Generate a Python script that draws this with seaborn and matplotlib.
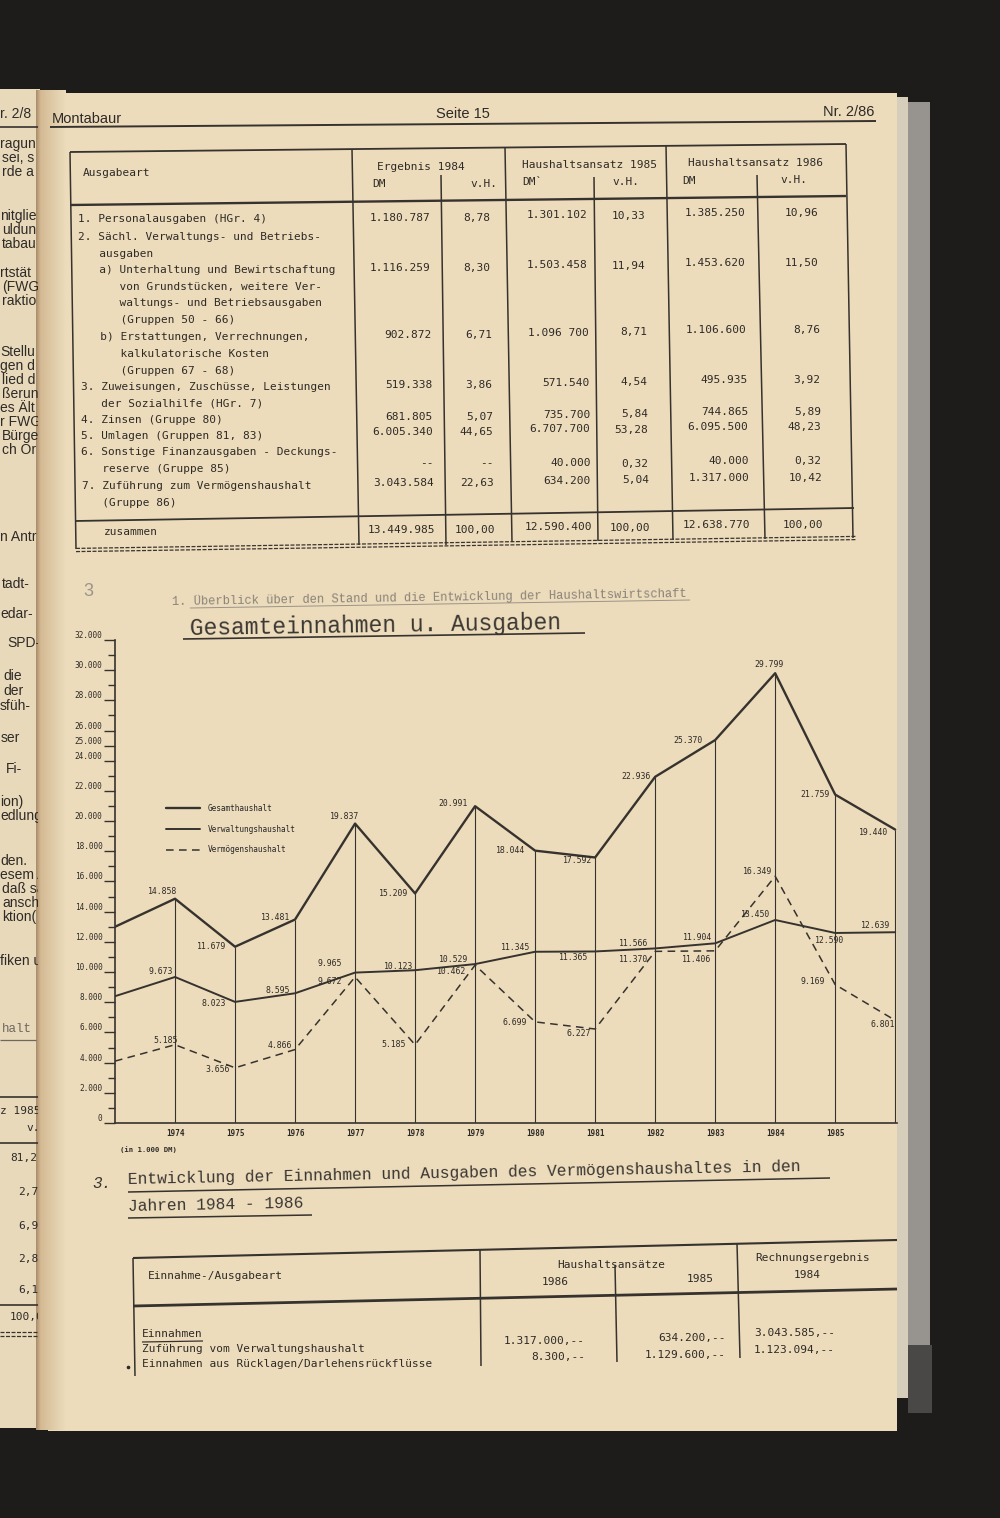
import numpy as np
import pandas as pd
import matplotlib
matplotlib.use("Agg")
import matplotlib.pyplot as plt
import seaborn as sns

# ---------------------------------------------------------------
# Chart data (in 1.000 DM)
# ---------------------------------------------------------------
jahre = list(range(1973, 1987))
gesamt = [13000, 14858, 11679, 13481, 19837, 15209, 20991, 18044, 17592, 22936, 25370, 29799, 21759, 19440]
verwaltung = [8400, 9673, 8023, 8595, 9965, 10123, 10529, 11345, 11365, 11566, 11904, 13450, 12590, 12639]
vermoegen = [4100, 5185, 3656, 4866, 9672, 5185, 10462, 6699, 6227, 11370, 11406, 16349, 9169, 6801]
reihen = ["Gesamthaushalt", "Verwaltungshaushalt", "Vermögenshaushalt"]
y_ticks = [0, 2000, 4000, 6000, 8000, 10000, 12000, 14000, 16000, 18000, 20000,
           22000, 24000, 25000, 26000, 28000, 30000, 32000]
y_minor = [1000, 3000, 5000, 7000, 9000, 11000, 13000, 15000, 17000, 19000, 21000,
           23000, 27000, 29000, 31000]
x_ticks = list(range(1974, 1986))

# table 1: Ausgaben des Verwaltungshaushalts
ausgabe_text = [
    "1. Personalausgaben (HGr. 4)",
    "2. Sächl. Verwaltungs- und Betriebs-",
    "   ausgaben",
    "   a) Unterhaltung und Bewirtschaftung",
    "      von Grundstücken, weitere Ver-",
    "      waltungs- und Betriebsausgaben",
    "      (Gruppen 50 - 66)",
    "   b) Erstattungen, Verrechnungen,",
    "      kalkulatorische Kosten",
    "      (Gruppen 67 - 68)",
    "3. Zuweisungen, Zuschüsse, Leistungen",
    "   der Sozialhilfe (HGr. 7)",
    "4. Zinsen (Gruppe 80)",
    "5. Umlagen (Gruppen 81, 83)",
    "6. Sonstige Finanzausgaben - Deckungs-",
    "   reserve (Gruppe 85)",
    "7. Zuführung zum Vermögenshaushalt",
    "   (Gruppe 86)",
]
erg84_dm = ["1.180.787", "1.116.259", "902.872", "519.338", "681.805", "6.005.340", "--", "3.043.584"]
erg84_vh = ["8,78", "8,30", "6,71", "3,86", "5,07", "44,65", "--", "22,63"]
ans85_dm = ["1.301.102", "1.503.458", "1.096 700", "571.540", "735.700", "6.707.700", "40.000", "634.200"]
ans85_vh = ["10,33", "11,94", "8,71", "4,54", "5,84", "53,28", "0,32", "5,04"]
ans86_dm = ["1.385.250", "1.453.620", "1.106.600", "495.935", "744.865", "6.095.500", "40.000", "1.317.000"]
ans86_vh = ["10,96", "11,50", "8,76", "3,92", "5,89", "48,23", "0,32", "10,42"]
summen = ["13.449.985", "100,00", "12.590.400", "100,00", "12.638.770", "100,00"]

# table 3: Vermögenshaushalt
verm_zeilen = ["Einnahmen", "Zuführung vom Verwaltungshaushalt",
               "Einnahmen aus Rücklagen/Darlehensrückflüsse"]
verm_86 = ["1.317.000,--", "8.300,--"]
verm_85 = ["634.200,--", "1.129.600,--"]
verm_84 = ["3.043.585,--", "1.123.094,--"]

# ---------------------------------------------------------------
# Styling / layout
# ---------------------------------------------------------------
W, H = 1000, 1518
BG = "#1d1c1b"
PAPER = "#ecdcbc"
PAPER_L = "#e8d9bb"
INK = "#2e2a26"
LINE = "#36322e"
MONO = "DejaVu Sans Mono"
LETTER = "Liberation Mono"
SANS = "Liberation Sans"

sns.set_theme(style="white")
plt.rcParams["font.family"] = ["DejaVu Sans Mono", "DejaVu Sans"]

fig = plt.figure(figsize=(W / 100, H / 100), dpi=100, facecolor=BG)

pg = fig.add_axes([0, 0, 1, 1])
pg.set_facecolor(BG)
pg.axis("off")


def put(x, y, s, size=8, ha="left", va="center", fam=MONO, color=INK, rot=0, ax=None, **kw):
    a = pg if ax is None else ax
    return a.text(x, y, s, fontsize=size, ha=ha, va=va, family=fam, color=color,
                  rotation=rot, rotation_mode="anchor", **kw)


def seg(xs, ys, lw=1.0, color=LINE, ax=None, **kw):
    a = pg if ax is None else ax
    a.plot(xs, ys, color=color, lw=lw, solid_capstyle="butt", **kw)


# page backgrounds
pg.add_patch(plt.Rectangle((0, 89), 40, 1339, color=PAPER_L, lw=0))
pg.add_patch(plt.Rectangle((48, 93), 849, 1338, color=PAPER, lw=0))
pg.add_patch(plt.Rectangle((897, 97), 11, 1301, color="#d6cdbb", lw=0))
pg.add_patch(plt.Rectangle((908, 102), 22, 1243, color="#97948f", lw=0))
pg.add_patch(plt.Rectangle((908, 1345), 24, 68, color="#4a4846", lw=0))

# gutter shadow between the two pages
grad_x = np.linspace(0, 1, 60)
c0 = np.array([0.66, 0.55, 0.41])
c1 = np.array([0.83, 0.73, 0.58])
c2 = np.array(matplotlib.colors.to_rgb(PAPER))
prof = np.where(grad_x[:, None] < 0.15,
                c0 + (c1 - c0) * (grad_x[:, None] / 0.15),
                c1 + (c2 - c1) * ((grad_x[:, None] - 0.15) / 0.85))
pg.imshow(prof[None, :, :], extent=(36, 66, 1430, 90), aspect="auto", interpolation="bilinear", zorder=1)

# ---------------------------------------------------------------
# left (cut off) page
# ---------------------------------------------------------------
lp = fig.add_axes([0, 0, 38 / W, 1])
lp.set_xlim(0, 38)
lp.set_ylim(H, 0)
lp.axis("off")
left_frags = [
    ("r. 2/8", 0, 114), ("ragun", 0, 144), ("sei, s", 2, 158), ("rde a", 2, 172),
    ("nitglie", 0, 216), ("uldun", 2, 230), ("tabau", 2, 244),
    ("rtstät", 0, 273), ("(FWG", 2, 287), ("raktio", 2, 301),
    ("Stellu", 0, 352), ("gen d", 0, 366), ("lied d", 2, 380), ("ßerun", 2, 394),
    ("es Ält", 0, 408), ("r FWG", 0, 422), ("Bürge", 2, 436), ("ch Or", 2, 450),
    ("n Antr", 0, 537), ("tadt-", 2, 584), ("edar-", 0, 614), ("SPD-", 7, 643),
    ("die", 3, 676), ("der", 3, 691), ("sfüh-", 0, 706), ("ser", 1, 738), ("Fi-", 6, 769),
    ("ion)", 0, 802), ("edlung", 0, 816), ("den.", 0, 861), ("esem A", 0, 875),
    ("daß sä", 2, 889), ("ansch", 2, 903), ("ktion(", 2, 917), ("fiken u", 0, 961),
]
for s, x, y in left_frags:
    t = put(x, y, s, size=10, fam=SANS, ax=lp)
    t.set_clip_box(lp.bbox)
    t.set_clip_on(True)
left_tab = [("halt", 2, 1029, LETTER, "#6e685f", 9), ("z 1985", 0, 1111, MONO, INK, 8),
            ("v.H", 26, 1128, MONO, INK, 8), ("81,2", 10, 1158, MONO, INK, 8),
            ("2,7", 18, 1192, MONO, INK, 8), ("6,9", 18, 1226, MONO, INK, 8),
            ("2,8", 18, 1259, MONO, INK, 8), ("6,1", 18, 1290, MONO, INK, 8),
            ("100,0", 10, 1317, MONO, INK, 8)]
for s, x, y, fam, col, sz in left_tab:
    t = put(x, y, s, size=sz, fam=fam, color=col, ax=lp)
    t.set_clip_box(lp.bbox)
    t.set_clip_on(True)
for y in [127, 1097, 1143, 1305]:
    seg([0, 38], [y, y], lw=1.2, ax=lp)
seg([0, 36], [1040, 1040], lw=0.9, color="#6e685f", ax=lp)
for off in (-1.6, 1.6):
    seg([0, 38], [1334 + off, 1334 + off], lw=0.9, ax=lp, linestyle=(0, (3.2, 1.2)))

# ---------------------------------------------------------------
# page header
# ---------------------------------------------------------------
put(52, 119, "Montabaur", size=10.5, fam=SANS)
put(463, 114, "Seite 15", size=10.5, fam=SANS, ha="center")
put(874, 112, "Nr. 2/86", size=10.5, fam=SANS, ha="right")
seg([50, 876], [127, 121], lw=1.4)

# ---------------------------------------------------------------
# table 1
# ---------------------------------------------------------------
seg([70, 846], [152, 144], lw=1.3)
seg([70, 846], [205, 196], lw=1.7)
seg([75, 854], [521, 508], lw=1.3)
for xt, xb, yt, yb in [(70, 76, 152, 549), (352, 359, 149, 545), (441, 446, 175, 545),
                       (505, 512, 147, 542), (594, 598, 177, 541), (666, 673, 145, 540),
                       (757, 765, 175, 539), (846, 853, 144, 538)]:
    seg([xt, xb], [yt, yb], lw=1.1)
# typed double rule under the table
for off in (-1.6, 1.6):
    seg([76, 856], [550 + off, 538 + off], lw=0.9, color="#3a3530", linestyle=(0, (3.2, 1.2)))

put(83, 173, "Ausgabeart")
put(377, 167, "Ergebnis 1984")
put(372, 184, "DM")
put(470, 184, "v.H.")
put(522, 165, "Haushaltsansatz 1985")
put(522, 182, "DM`")
put(612, 182, "v.H.")
put(688, 163, "Haushaltsansatz 1986")
put(682, 181, "DM")
put(780, 180, "v.H.")

text_y = [219, 237, 254, 270, 287, 303, 320, 337, 354, 371, 387, 403, 420, 436, 452, 469, 486, 503]
for s, y in zip(ausgabe_text, text_y):
    put(78 + 0.015 * (y - 219), y, s)
put(104, 532, "zusammen")

wert_y = [218, 268, 335, 385, 417, 432, 466, 483]
spalten = [(erg84_dm, 430, 0), (erg84_vh, 490, 0), (ans85_dm, 587, -2.5),
           (ans85_vh, 645, -2.5), (ans86_dm, 745, -5), (ans86_vh, 818, -5)]
for werte, xr, dy in spalten:
    for s, y in zip(werte, wert_y):
        yy = y + dy - (3 if s == "--" else 0)
        put(xr + 0.015 * (y - 218), yy, s, ha="right")
for s, (werte, xr, dy) in zip(summen, spalten):
    put(xr + 5, 530 + dy, s, ha="right")

# ---------------------------------------------------------------
# chart titles
# ---------------------------------------------------------------
put(83, 592, "3", size=13, fam=SANS, color="#9c958a")
put(172, 602, "1. Überblick über den Stand und die Entwicklung der Haushaltswirtschaft",
    size=8.7, fam=LETTER, color="#8a8378", rot=0.9)
seg([190, 690], [608, 600], lw=0.7, color="#9a9388")
put(190, 629, "Gesamteinnahmen u. Ausgaben", size=16.5, fam=LETTER, color="#3a3632", rot=0.9)
seg([183, 585], [639, 633], lw=1.2)

# ---------------------------------------------------------------
# line chart
# ---------------------------------------------------------------
df = pd.DataFrame({
    "Jahr": jahre * 3,
    "Wert": gesamt + verwaltung + vermoegen,
    "Reihe": [r for r in reihen for _ in jahre],
})

ax = fig.add_axes([115 / W, 1 - 1123 / H, 782 / W, 483 / H])
ax.set_facecolor("none")
sns.lineplot(
    data=df, x="Jahr", y="Wert", hue="Reihe", style="Reihe", size="Reihe",
    hue_order=reihen, style_order=reihen, size_order=reihen,
    palette={r: LINE for r in reihen},
    dashes={"Gesamthaushalt": "", "Verwaltungshaushalt": "", "Vermögenshaushalt": (5, 3.5)},
    sizes={"Gesamthaushalt": 1.7, "Verwaltungshaushalt": 1.4, "Vermögenshaushalt": 1.1},
    ax=ax,
)
ax.vlines(jahre[1:], 0, gesamt[1:], color=LINE, lw=0.8)

ax.set_xlim(1973, 1986.03)
ax.set_ylim(0, 32000)
sns.despine(ax=ax)
for sp in ["left", "bottom"]:
    ax.spines[sp].set_color(LINE)
    ax.spines[sp].set_linewidth(1.2)
ax.set_xlabel("")
ax.set_ylabel("")

ax.set_yticks(y_ticks)
ax.set_yticklabels([f"{v:,}".replace(",", ".") if v else "0" for v in y_ticks])
ax.set_yticks(y_minor, minor=True)
ax.tick_params(axis="y", which="major", length=8, width=1.0, color=LINE, pad=1,
               labelsize=5.6, labelcolor=INK, left=True, direction="out")
ax.tick_params(axis="y", which="minor", length=5, width=1.0, color=LINE, left=True, direction="out")
for lbl in ax.get_yticklabels():
    lbl.set_va("bottom")

ax.set_xticks(x_ticks)
ax.set_xticklabels([str(j) for j in x_ticks])
ax.tick_params(axis="x", length=0, pad=4, labelsize=5.5, labelcolor=INK)
for lbl in ax.get_xticklabels():
    lbl.set_fontweight("bold")

# value labels: (ha, dx, dy) in pixels for 1974..1986
lage_gesamt = [("center", -12, 7), ("right", -9, 0), ("right", -5, 2), ("center", -10, 7),
               ("right", -7, 0), ("right", -7, 3), ("right", -10, 0), ("right", -3, -3),
               ("right", -5, 0), ("right", -13, 0), ("center", -6, 9), ("right", -6, 0),
               ("right", -7, -3)]
lage_verw = [("right", -2, 5), ("right", -9, -2), ("right", -5, 3), ("right", -13, 9),
             ("right", -2, 4), ("right", -7, 5), ("right", -5, 4), ("right", -7, -6),
             ("right", -7, 5), ("right", -3, 6), ("right", -5, 5), ("center", -6, -8),
             ("right", -5, 7)]
lage_verm = [("center", -9, 4), ("right", -5, -2), ("right", -3, 4), ("right", -13, -4),
             ("right", -9, 0), ("right", -9, -6), ("right", -8, -1), ("right", -4, -4),
             ("right", -7, -8), ("right", -4, -9), ("right", -3, 5), ("right", -10, 3),
             ("right", 0, -4)]
for serie, lage in [(gesamt, lage_gesamt), (verwaltung, lage_verw), (vermoegen, lage_verm)]:
    for j, v, (ha, dx, dy) in zip(jahre[1:], serie[1:], lage):
        ax.annotate(f"{v:,}".replace(",", "."), (j, v), xytext=(dx, dy),
                    textcoords="offset pixels", ha=ha, va="center", fontsize=5.9, color=INK)

sns.move_legend(ax, "upper left", bbox_to_anchor=((166 - 115) / 782, (1123 - 804) / 483),
                title=None, frameon=False, fontsize=5.6, handlelength=4.4,
                handletextpad=1.0, labelspacing=1.5, borderaxespad=0, borderpad=0)

put(120, 1150, "(in 1.000 DM)", size=5.2, weight="bold")

# ---------------------------------------------------------------
# section 3 and table 3
# ---------------------------------------------------------------
put(92, 1183, "3.", size=11.5, fam=LETTER, color="#3a3632", style="italic")
put(128, 1180, "Entwicklung der Einnahmen und Ausgaben des Vermögenshaushaltes in den",
    size=11.7, fam=LETTER, color="#3a3632", rot=1.1)
seg([128, 830], [1192, 1178], lw=1.1)
put(128, 1207, "Jahren 1984 - 1986", size=11.7, fam=LETTER, color="#3a3632", rot=1.1)
seg([128, 312], [1218, 1215], lw=1.1)

seg([133, 897], [1258, 1240], lw=1.5)
seg([133, 897], [1306, 1289], lw=2.0)
for xt, xb, yt, yb in [(133, 135, 1258, 1376), (480, 481, 1250, 1366),
                       (615, 617, 1265, 1362), (737, 740, 1243, 1358)]:
    seg([xt, xb], [yt, yb], lw=1.1)

put(148, 1276, "Einnahme-/Ausgabeart")
put(611, 1265, "Haushaltsansätze", ha="center")
put(555, 1282, "1986", ha="center")
put(700, 1279, "1985", ha="center")
put(813, 1258, "Rechnungsergebnis", ha="center")
put(807, 1275, "1984", ha="center")

for s, y in zip(verm_zeilen, [1334, 1349, 1364]):
    put(142, y, s)
seg([142, 203], [1342, 1341], lw=0.9)
pg.plot([128], [1367], marker="o", ms=1.6, color=INK)
for werte, xr, ys in [(verm_86, 585, [1341, 1357]), (verm_85, 726, [1338, 1355]),
                      (verm_84, 835, [1333, 1350])]:
    for s, y in zip(werte, ys):
        put(xr, y, s, ha="right")

pg.set_xlim(0, W)
pg.set_ylim(H, 0)

fig.savefig("out.png", dpi=100, facecolor=fig.get_facecolor())
